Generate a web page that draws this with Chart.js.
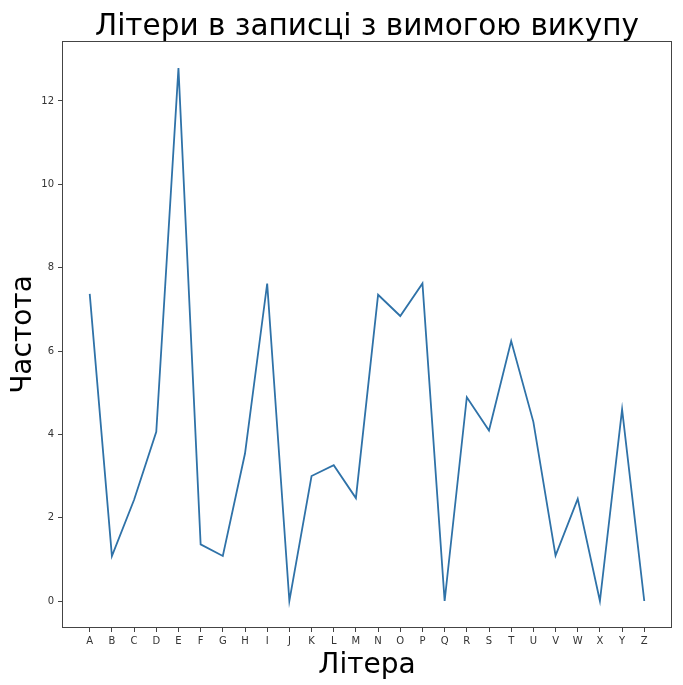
<!DOCTYPE html>
<html>
<head>
<meta charset="utf-8">
<script src="https://cdn.jsdelivr.net/npm/chart.js@4"></script>
<style>
  body { margin: 0; background: #fff; }
  #chart { display: block; }
</style>
</head>
<body>
<canvas id="chart" width="683" height="685"></canvas>
<script>
// letters on the x axis
const letters = ['A', 'B', 'C', 'D', 'E', 'F', 'G', 'H', 'I', 'J', 'K', 'L', 'M',
  'N', 'O', 'P', 'Q', 'R', 'S', 'T', 'U', 'V', 'W', 'X', 'Y', 'Z'];
// frequency
const freq = [7.37, 1.08, 2.43, 4.06, 12.79, 1.36, 1.08, 3.54, 7.62, 0, 3.0, 3.26, 2.47,
  7.35, 6.84, 7.62, 0, 4.89, 4.09, 6.24, 4.3, 1.09, 2.45, 0, 4.6, 0];
const yTicks = [0, 2, 4, 6, 8, 10, 12];

const titleText = 'Літери в записці з вимогою викупу';
const xTitle = 'Літера';
const yTitle = 'Частота';

const font = '"DejaVu Sans", sans-serif';
const axisColor = '#444';

const points = freq.map((v, i) => ({ x: i, y: v }));

// frame round the plot and the title centred over the axes, like matplotlib
const framePlugin = {
  id: 'frame',
  afterDraw(chart) {
    const { ctx, chartArea: a } = chart;
    ctx.save();
    ctx.strokeStyle = axisColor;
    ctx.lineWidth = 1;
    ctx.strokeRect(a.left + 0.5, a.top + 0.5, a.right - a.left - 1, a.bottom - a.top - 1);
    ctx.fillStyle = '#000';
    ctx.font = '29.5px ' + font;
    ctx.textAlign = 'center';
    ctx.textBaseline = 'alphabetic';
    ctx.fillText(titleText, (a.left + a.right) / 2, 35);
    ctx.restore();
  }
};

new Chart(document.getElementById('chart'), {
  type: 'line',
  data: {
    datasets: [{
      data: points,
      borderColor: '#2f72a8',
      borderWidth: 1.8,
      pointRadius: 0,
      tension: 0,
      fill: false
    }]
  },
  options: {
    responsive: false,
    animation: false,
    layout: { padding: { right: 11, left: 0, top: 41, bottom: 0 } },
    plugins: {
      legend: { display: false },
      tooltip: { enabled: false },
      title: { display: false }
    },
    scales: {
      x: {
        type: 'linear',
        min: -1.25,
        max: 26.25,
        afterBuildTicks: (scale) => {
          scale.ticks = letters.map((l, i) => ({ value: i }));
        },
        afterFit: (scale) => { scale.height = 57; },
        ticks: {
          autoSkip: false,
          maxRotation: 0,
          color: '#333',
          font: { family: font, size: 10 },
          padding: 3,
          callback: (v) => letters[v]
        },
        grid: { drawOnChartArea: false, drawTicks: true, tickLength: 4, color: axisColor },
        border: { display: false },
        title: {
          display: true,
          text: xTitle,
          color: '#000',
          font: { family: font, size: 28 },
          padding: { top: 0, bottom: 2 }
        }
      },
      y: {
        type: 'linear',
        min: -0.648,
        max: 13.44,
        afterBuildTicks: (scale) => {
          scale.ticks = yTicks.map((v) => ({ value: v }));
        },
        afterFit: (scale) => { scale.width = 62; },
        ticks: {
          color: '#333',
          font: { family: font, size: 10 },
          padding: 4
        },
        grid: { drawOnChartArea: false, drawTicks: true, tickLength: 4, color: axisColor },
        border: { display: false },
        title: {
          display: true,
          text: yTitle,
          color: '#000',
          font: { family: font, size: 28 },
          padding: { top: 7, bottom: 0 }
        }
      }
    }
  },
  plugins: [framePlugin]
});
</script>
</body>
</html>
